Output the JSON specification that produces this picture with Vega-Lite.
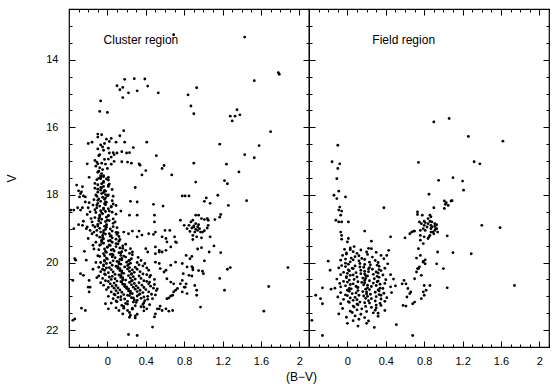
{
"$schema": "https://vega.github.io/schema/vega-lite/v6.json",
"padding": {"left": 4, "top": 7, "right": 5, "bottom": 5},
"spacing": 0,
"bounds": "flush",
"config": {
  "view": {"stroke": "black", "strokeWidth": 1.2},
  "font": "Liberation Sans",
  "axis": {"domain": false, "grid": false, "tickColor": "black", "tickWidth": 1, "labelColor": "black", "titleColor": "black", "labelFont": "Liberation Sans", "titleFont": "Liberation Sans", "labelFontSize": 11, "titleFontSize": 12, "titleFontWeight": "normal"}
},
"datasets": {
"cluster": [
{"b":0.69,"v":13.26},{"b":1.43,"v":13.33},{"b":1.78,"v":14.38},{"b":1.79,"v":14.43},{"b":1.53,"v":14.62},{"b":0.18,"v":14.58},{"b":0.28,"v":14.56},{"b":0.39,"v":14.57},{"b":0.10,"v":14.77},{"b":0.13,"v":14.89},{"b":0.16,"v":14.82},{"b":0.16,"v":15.12},{"b":0.22,"v":14.98},{"b":0.31,"v":14.92},{"b":0.42,"v":14.78},{"b":0.53,"v":14.98},{"b":-0.07,"v":15.22},{"b":-0.08,"v":15.53},{"b":0.0,"v":15.56},{"b":0.84,"v":15.04},{"b":0.87,"v":15.37},{"b":0.90,"v":15.6},{"b":0.93,"v":14.83},{"b":1.35,"v":15.48},{"b":1.28,"v":15.67},{"b":1.33,"v":15.67},{"b":1.38,"v":15.63},{"b":1.30,"v":15.81},{"b":1.70,"v":16.13},{"b":1.17,"v":16.5},{"b":1.58,"v":16.54},{"b":1.43,"v":16.81},{"b":1.53,"v":16.9},{"b":0.90,"v":17.06},{"b":1.24,"v":17.09},{"b":1.37,"v":17.32},{"b":1.45,"v":18.17},{"b":0.92,"v":17.62},{"b":1.22,"v":17.58},{"b":1.25,"v":17.67},{"b":1.15,"v":18.01},{"b":1.03,"v":18.09},{"b":1.01,"v":18.19},{"b":1.07,"v":18.25},{"b":1.26,"v":18.31},{"b":0.92,"v":18.6},{"b":1.18,"v":18.58},{"b":1.17,"v":18.66},{"b":1.01,"v":18.73},{"b":1.04,"v":18.70},{"b":1.05,"v":18.75},{"b":1.12,"v":18.73},{"b":1.05,"v":18.9},{"b":1.04,"v":18.98},{"b":1.01,"v":19.06},{"b":0.99,"v":19.1},{"b":0.94,"v":19.05},{"b":1.07,"v":19.24},{"b":0.98,"v":19.27},{"b":0.89,"v":19.32},{"b":1.11,"v":19.51},{"b":0.94,"v":19.6},{"b":0.98,"v":19.56},{"b":1.18,"v":19.71},{"b":1.06,"v":19.69},{"b":0.88,"v":19.82},{"b":1.01,"v":19.95},{"b":0.88,"v":20.12},{"b":0.89,"v":20.22},{"b":0.89,"v":20.16},{"b":0.95,"v":20.24},{"b":0.99,"v":20.26},{"b":1.0,"v":20.33},{"b":1.25,"v":20.2},{"b":1.28,"v":20.15},{"b":0.88,"v":20.4},{"b":1.17,"v":20.47},{"b":0.91,"v":20.68},{"b":0.93,"v":20.82},{"b":0.93,"v":20.97},{"b":1.22,"v":20.82},{"b":1.68,"v":20.71},{"b":1.88,"v":20.15},{"b":0.97,"v":21.32},{"b":1.63,"v":21.44},
{"b":0.87,"v":18.8},{"b":0.89,"v":18.75},{"b":0.92,"v":18.85},{"b":0.9,"v":18.92},{"b":0.88,"v":18.98},{"b":0.94,"v":18.95},{"b":0.95,"v":18.88},{"b":0.91,"v":19.1},{"b":0.86,"v":19.08},{"b":0.97,"v":19.1},{"b":0.89,"v":19.2},{"b":0.93,"v":19.24},{"b":0.83,"v":19.0},{"b":0.98,"v":18.7},{"b":0.95,"v":18.6},{"b":0.9,"v":18.95},{"b":0.85,"v":18.9},{"b":0.92,"v":19.02},{"b":0.96,"v":19.0},
{"b":0.17,"v":16.1},{"b":0.13,"v":16.25},{"b":-0.10,"v":16.2},{"b":-0.06,"v":16.22},{"b":-0.01,"v":16.35},{"b":0.02,"v":16.42},{"b":0.04,"v":16.33},{"b":-0.10,"v":16.29},{"b":-0.16,"v":16.44},{"b":-0.07,"v":16.52},{"b":-0.05,"v":16.58},{"b":-0.03,"v":16.48},{"b":0.09,"v":16.44},{"b":0.18,"v":16.44},{"b":0.41,"v":16.44},{"b":0.27,"v":16.6},{"b":-0.10,"v":16.64},{"b":-0.04,"v":16.68},{"b":-0.08,"v":16.81},{"b":-0.09,"v":16.84},{"b":0.01,"v":16.62},{"b":0.02,"v":16.76},{"b":0.06,"v":16.75},{"b":0.07,"v":16.81},{"b":0.10,"v":16.76},{"b":0.04,"v":16.88},{"b":0.15,"v":16.72},{"b":0.2,"v":16.76},{"b":0.23,"v":16.75},{"b":-0.13,"v":16.98},{"b":-0.11,"v":17.03},{"b":-0.10,"v":17.08},{"b":-0.06,"v":17.06},{"b":-0.03,"v":16.95},{"b":-0.02,"v":17.09},{"b":0.01,"v":16.94},{"b":0.04,"v":17.09},{"b":0.07,"v":17.01},{"b":0.15,"v":17.02},{"b":0.21,"v":17.03},{"b":0.25,"v":17.06},{"b":0.33,"v":17.08},{"b":0.34,"v":17.12},{"b":-0.21,"v":17.08},{"b":0.4,"v":17.28},{"b":0.36,"v":17.41},{"b":0.51,"v":16.84},{"b":0.57,"v":17.22},{"b":0.59,"v":17.13},{"b":0.67,"v":17.41},{"b":-0.10,"v":17.33},{"b":-0.07,"v":17.43},{"b":-0.06,"v":17.37},{"b":-0.04,"v":17.46},{"b":-0.19,"v":17.48},{"b":-0.20,"v":16.48},{"b":-0.08,"v":17.2},{"b":-0.05,"v":17.25},{"b":-0.12,"v":17.15},{"b":0.0,"v":17.22},{"b":-0.09,"v":17.3},
{"b":0.29,"v":17.78},{"b":-0.32,"v":17.71},{"b":-0.26,"v":17.76},{"b":-0.28,"v":17.96},{"b":-0.25,"v":18.03},{"b":-0.23,"v":18.06},{"b":0.31,"v":18.21},{"b":0.48,"v":18.28},{"b":0.58,"v":18.33},{"b":0.78,"v":18.03},{"b":0.81,"v":18.03},{"b":0.85,"v":18.03},{"b":-0.31,"v":18.38},{"b":-0.26,"v":18.38},{"b":-0.35,"v":18.45},{"b":-0.19,"v":18.23},{"b":-0.18,"v":18.5},{"b":-0.21,"v":18.58},{"b":-0.25,"v":18.78},{"b":-0.26,"v":18.9},{"b":-0.21,"v":18.95},{"b":-0.18,"v":19.05},{"b":-0.14,"v":19.1},{"b":-0.35,"v":19.0},{"b":0.23,"v":18.6},{"b":0.09,"v":18.31},{"b":0.14,"v":18.48},{"b":0.17,"v":19.1},{"b":0.22,"v":19.15},{"b":0.26,"v":19.07},{"b":0.31,"v":19.24},{"b":0.36,"v":19.19},{"b":0.43,"v":19.15},{"b":0.48,"v":19.17},{"b":0.57,"v":19.24},{"b":0.6,"v":19.05},{"b":0.65,"v":19.05},{"b":0.5,"v":19.54},{"b":0.54,"v":19.69},{"b":0.5,"v":19.74},{"b":0.62,"v":19.39},{"b":0.66,"v":19.54},{"b":0.72,"v":19.41},{"b":0.76,"v":18.75},{"b":0.80,"v":18.9},{"b":0.82,"v":19.79},{"b":0.86,"v":19.89},{"b":0.78,"v":20.03},{"b":-0.33,"v":19.93},{"b":-0.22,"v":19.93},{"b":-0.28,"v":20.33},{"b":-0.25,"v":20.38},{"b":-0.36,"v":20.53},{"b":-0.19,"v":20.53},{"b":-0.18,"v":20.73},{"b":-0.27,"v":21.35},{"b":-0.23,"v":21.42},{"b":-0.34,"v":21.67},{"b":0.22,"v":22.13},{"b":0.31,"v":22.16},{"b":0.47,"v":21.91},{"b":0.24,"v":21.56},{"b":0.29,"v":21.64},{"b":-0.02,"v":21.22},{"b":0.01,"v":21.37},{"b":0.12,"v":21.42},{"b":0.17,"v":21.35},{"b":0.38,"v":21.32},{"b":0.41,"v":21.37},{"b":0.52,"v":21.37},{"b":0.55,"v":21.29},{"b":0.62,"v":21.07},{"b":0.66,"v":20.99},{"b":0.69,"v":20.87},{"b":0.73,"v":20.77},{"b":0.76,"v":20.63},{"b":0.78,"v":20.53},{"b":0.81,"v":20.73},{"b":0.79,"v":20.33},{"b":0.62,"v":20.48},{"b":0.66,"v":20.58},{"b":0.69,"v":20.63},{"b":0.55,"v":20.18},{"b":0.59,"v":20.28},{"b":0.66,"v":20.08},{"b":0.83,"v":20.92},{"b":-0.38,"v":18.45},{"b":-0.34,"v":19.89},{"b":-0.36,"v":21.71},{"b":-0.20,"v":20.73},{"b":-0.19,"v":20.87},{"b":-0.24,"v":19.67},{"b":-0.30,"v":17.88},{"b":-0.27,"v":17.91},{"b":-0.29,"v":18.06},{"b":-0.23,"v":18.21},{"b":-0.20,"v":18.38},{"b":-0.28,"v":18.45},{"b":-0.16,"v":18.8},{"b":-0.30,"v":18.88},{"b":-0.22,"v":19.0},{"b":-0.11,"v":19.2},{"b":-0.2,"v":19.29},{"b":-0.15,"v":19.49},{"b":0.24,"v":18.19},{"b":0.31,"v":18.6},{"b":0.49,"v":18.6},{"b":0.49,"v":18.8},{"b":0.33,"v":19.07},{"b":0.5,"v":19.1},{"b":0.61,"v":19.29},{"b":0.7,"v":19.24},{"b":0.71,"v":19.39},{"b":0.4,"v":19.59},{"b":0.42,"v":19.69},{"b":0.54,"v":19.64},{"b":0.57,"v":19.69},{"b":0.61,"v":19.64},{"b":0.5,"v":19.99},{"b":0.54,"v":20.03},{"b":0.61,"v":20.23},{"b":0.71,"v":19.99},{"b":0.83,"v":20.13},{"b":0.85,"v":20.38},{"b":0.82,"v":20.63},{"b":0.8,"v":20.73},{"b":0.78,"v":20.87},{"b":0.71,"v":20.82},{"b":0.68,"v":20.97},{"b":0.64,"v":21.05},{"b":0.61,"v":21.37},{"b":0.57,"v":21.42},{"b":0.54,"v":21.37},{"b":0.64,"v":21.44},{"b":0.68,"v":21.42},{"b":0.49,"v":21.61},{"b":0.5,"v":21.52},{"b":-0.15,"v":18.3},{"b":-0.17,"v":18.7},{"b":-0.13,"v":18.95},{"b":-0.16,"v":19.15},{"b":-0.12,"v":19.4},{"b":-0.14,"v":19.6},{"b":-0.1,"v":19.8},{"b":-0.12,"v":20.0},{"b":-0.15,"v":20.2},{"b":-0.11,"v":20.45},
{"b":-0.07,"v":17.47},{"b":-0.04,"v":17.43},{"b":0.01,"v":17.48},
{"b":-0.09,"v":17.51},{"b":-0.07,"v":17.52},{"b":-0.01,"v":17.53},
{"b":-0.11,"v":17.55},{"b":-0.04,"v":17.6},{"b":0.01,"v":17.56},
{"b":-0.13,"v":17.66},{"b":-0.06,"v":17.67},{"b":-0.04,"v":17.63},{"b":0.02,"v":17.68},
{"b":-0.1,"v":17.7},{"b":-0.04,"v":17.75},{"b":0.01,"v":17.71},
{"b":-0.07,"v":17.78},{"b":-0.06,"v":17.79},{"b":0.01,"v":17.75},{"b":-0.13,"v":17.8},
{"b":-0.1,"v":17.83},{"b":-0.07,"v":17.86},{"b":-0.03,"v":17.87},{"b":0.05,"v":17.84},
{"b":-0.1,"v":17.92},{"b":-0.04,"v":17.93},{"b":-0.02,"v":17.89},
{"b":-0.12,"v":18.0},{"b":-0.06,"v":17.96},{"b":-0.02,"v":17.99},{"b":0.01,"v":18.0},
{"b":-0.11,"v":18.04},{"b":-0.05,"v":18.07},{"b":0.0,"v":18.03},{"b":0.06,"v":18.04},
{"b":-0.09,"v":18.12},{"b":-0.03,"v":18.13},{"b":-0.02,"v":18.09},{"b":-0.14,"v":18.14},
{"b":-0.1,"v":18.16},{"b":-0.07,"v":18.19},{"b":-0.02,"v":18.21},{"b":0.05,"v":18.17},
{"b":-0.1,"v":18.25},{"b":-0.03,"v":18.26},{"b":-0.01,"v":18.22},{"b":0.06,"v":18.27},
{"b":-0.11,"v":18.3},{"b":-0.08,"v":18.33},{"b":-0.02,"v":18.29},{"b":0.04,"v":18.34},
{"b":-0.11,"v":18.38},{"b":-0.04,"v":18.39},{"b":0.01,"v":18.41},{"b":0.04,"v":18.36},
{"b":-0.07,"v":18.47},{"b":-0.04,"v":18.43},{"b":0.02,"v":18.48},{"b":-0.13,"v":18.44},
{"b":-0.12,"v":18.52},{"b":-0.06,"v":18.53},{"b":-0.02,"v":18.49},{"b":0.05,"v":18.51},
{"b":-0.08,"v":18.6},{"b":-0.05,"v":18.56},{"b":0.01,"v":18.61},{"b":0.09,"v":18.57},
{"b":-0.08,"v":18.65},{"b":-0.01,"v":18.66},{"b":0.01,"v":18.62},{"b":-0.13,"v":18.67},
{"b":-0.09,"v":18.7},{"b":-0.06,"v":18.72},{"b":0.0,"v":18.75},{"b":0.06,"v":18.71},
{"b":-0.09,"v":18.77},{"b":-0.02,"v":18.79},{"b":0.02,"v":18.76},{"b":0.08,"v":18.8},
{"b":-0.1,"v":18.87},{"b":-0.07,"v":18.83},{"b":-0.01,"v":18.88},{"b":0.06,"v":18.84},
{"b":-0.1,"v":18.92},{"b":-0.03,"v":18.93},{"b":-0.01,"v":18.89},{"b":0.06,"v":18.94},{"b":-0.15,"v":18.9},
{"b":-0.08,"v":18.99},{"b":-0.01,"v":18.96},{"b":0.03,"v":19.01},{"b":0.1,"v":18.97},
{"b":-0.11,"v":19.05},{"b":-0.04,"v":19.06},{"b":-0.02,"v":19.02},{"b":0.05,"v":19.07},
{"b":-0.07,"v":19.1},{"b":-0.04,"v":19.13},{"b":0.02,"v":19.15},{"b":0.09,"v":19.11},{"b":0.11,"v":19.12},
{"b":-0.05,"v":19.2},{"b":-0.02,"v":19.16},{"b":0.04,"v":19.21},{"b":0.1,"v":19.17},
{"b":-0.08,"v":19.25},{"b":-0.05,"v":19.26},{"b":0.03,"v":19.22},{"b":0.05,"v":19.27},{"b":0.12,"v":19.23},
{"b":-0.06,"v":19.34},{"b":-0.04,"v":19.3},{"b":0.03,"v":19.35},{"b":0.09,"v":19.31},{"b":0.13,"v":19.32},
{"b":-0.06,"v":19.39},{"b":0.01,"v":19.36},{"b":0.05,"v":19.4},{"b":0.12,"v":19.37},
{"b":-0.07,"v":19.47},{"b":-0.04,"v":19.43},{"b":0.02,"v":19.48},{"b":0.09,"v":19.44},{"b":0.11,"v":19.45},{"b":0.19,"v":19.46},
{"b":-0.08,"v":19.49},{"b":0.0,"v":19.54},{"b":0.03,"v":19.5},{"b":0.09,"v":19.53},{"b":0.16,"v":19.51},
{"b":-0.03,"v":19.6},{"b":0.0,"v":19.55},{"b":0.06,"v":19.61},{"b":0.13,"v":19.57},{"b":0.16,"v":19.58},{"b":0.24,"v":19.59},
{"b":-0.09,"v":19.62},{"b":-0.02,"v":19.67},{"b":0.04,"v":19.63},{"b":0.07,"v":19.66},{"b":0.15,"v":19.68},{"b":0.19,"v":19.64},
{"b":-0.04,"v":19.74},{"b":-0.01,"v":19.7},{"b":0.05,"v":19.75},{"b":0.12,"v":19.71},{"b":0.14,"v":19.72},{"b":0.23,"v":19.73},{"b":0.26,"v":19.69},
{"b":-0.03,"v":19.8},{"b":0.03,"v":19.76},{"b":0.06,"v":19.78},{"b":0.14,"v":19.79},{"b":0.17,"v":19.81},{"b":0.26,"v":19.77},
{"b":-0.08,"v":19.82},{"b":-0.01,"v":19.87},{"b":0.05,"v":19.83},{"b":0.08,"v":19.86},{"b":0.15,"v":19.88},{"b":0.19,"v":19.84},{"b":0.32,"v":19.85},
{"b":-0.03,"v":19.94},{"b":0.0,"v":19.9},{"b":0.06,"v":19.95},{"b":0.13,"v":19.91},{"b":0.15,"v":19.92},{"b":0.23,"v":19.93},{"b":0.25,"v":19.89},{"b":0.35,"v":19.94},
{"b":-0.07,"v":20.0},{"b":-0.03,"v":19.96},{"b":0.03,"v":20.01},{"b":0.1,"v":19.97},{"b":0.12,"v":19.98},{"b":0.2,"v":19.99},{"b":0.22,"v":19.95},{"b":0.31,"v":20.0},
{"b":-0.04,"v":20.07},{"b":-0.01,"v":20.03},{"b":0.05,"v":20.08},{"b":0.12,"v":20.04},{"b":0.14,"v":20.05},{"b":0.22,"v":20.06},{"b":0.24,"v":20.02},{"b":0.33,"v":20.07},{"b":0.39,"v":20.03},
{"b":-0.09,"v":20.14},{"b":-0.04,"v":20.1},{"b":0.02,"v":20.15},{"b":0.09,"v":20.11},{"b":0.11,"v":20.12},{"b":0.18,"v":20.13},{"b":0.21,"v":20.09},{"b":0.29,"v":20.14},{"b":0.37,"v":20.1},
{"b":-0.05,"v":20.2},{"b":-0.01,"v":20.16},{"b":0.04,"v":20.21},{"b":0.11,"v":20.17},{"b":0.13,"v":20.18},{"b":0.21,"v":20.19},{"b":0.23,"v":20.15},{"b":0.31,"v":20.2},{"b":0.41,"v":20.16},
{"b":-0.07,"v":20.27},{"b":-0.03,"v":20.23},{"b":0.06,"v":20.28},{"b":0.13,"v":20.24},{"b":0.15,"v":20.25},{"b":0.23,"v":20.26},{"b":0.26,"v":20.22},{"b":0.34,"v":20.27},{"b":0.43,"v":20.23},
{"b":-0.03,"v":20.34},{"b":0.01,"v":20.3},{"b":0.08,"v":20.35},{"b":0.15,"v":20.31},{"b":0.17,"v":20.32},{"b":0.25,"v":20.33},{"b":0.28,"v":20.29},{"b":0.37,"v":20.34},
{"b":-0.09,"v":20.4},{"b":-0.02,"v":20.36},{"b":0.05,"v":20.41},{"b":0.12,"v":20.37},{"b":0.14,"v":20.38},{"b":0.22,"v":20.39},{"b":0.25,"v":20.35},{"b":0.33,"v":20.4},{"b":0.41,"v":20.36},{"b":0.45,"v":20.38},
{"b":-0.05,"v":20.47},{"b":0.02,"v":20.43},{"b":0.08,"v":20.48},{"b":0.14,"v":20.44},{"b":0.16,"v":20.45},{"b":0.24,"v":20.46},{"b":0.27,"v":20.42},{"b":0.35,"v":20.47},{"b":0.44,"v":20.43},
{"b":-0.02,"v":20.54},{"b":0.04,"v":20.5},{"b":0.1,"v":20.55},{"b":0.16,"v":20.51},{"b":0.19,"v":20.52},{"b":0.26,"v":20.53},{"b":0.29,"v":20.49},{"b":0.38,"v":20.54},{"b":0.49,"v":20.5},
{"b":-0.07,"v":20.6},{"b":0.01,"v":20.56},{"b":0.07,"v":20.61},{"b":0.14,"v":20.57},{"b":0.15,"v":20.58},{"b":0.23,"v":20.59},{"b":0.25,"v":20.55},{"b":0.33,"v":20.6},{"b":0.41,"v":20.56},{"b":0.44,"v":20.58},
{"b":-0.04,"v":20.67},{"b":0.03,"v":20.63},{"b":0.09,"v":20.68},{"b":0.16,"v":20.64},{"b":0.18,"v":20.65},{"b":0.25,"v":20.66},{"b":0.28,"v":20.62},{"b":0.36,"v":20.67},{"b":0.43,"v":20.63},{"b":0.49,"v":20.65},
{"b":0.01,"v":20.74},{"b":0.05,"v":20.7},{"b":0.11,"v":20.75},{"b":0.18,"v":20.71},{"b":0.2,"v":20.72},{"b":0.27,"v":20.73},{"b":0.3,"v":20.69},{"b":0.38,"v":20.74},{"b":0.45,"v":20.7},
{"b":-0.01,"v":20.8},{"b":0.07,"v":20.76},{"b":0.13,"v":20.81},{"b":0.2,"v":20.77},{"b":0.22,"v":20.78},{"b":0.29,"v":20.79},{"b":0.32,"v":20.75},{"b":0.4,"v":20.8},{"b":0.48,"v":20.76},{"b":0.52,"v":20.78},
{"b":0.04,"v":20.87},{"b":0.09,"v":20.83},{"b":0.15,"v":20.88},{"b":0.22,"v":20.84},{"b":0.24,"v":20.85},{"b":0.31,"v":20.86},{"b":0.34,"v":20.82},{"b":0.43,"v":20.87},{"b":0.51,"v":20.83},
{"b":0.07,"v":20.94},{"b":0.11,"v":20.9},{"b":0.17,"v":20.95},{"b":0.24,"v":20.91},{"b":0.26,"v":20.92},{"b":0.34,"v":20.93},{"b":0.37,"v":20.89},{"b":0.46,"v":20.94},
{"b":0.01,"v":21.0},{"b":0.08,"v":20.96},{"b":0.14,"v":21.01},{"b":0.21,"v":20.97},{"b":0.23,"v":20.98},{"b":0.31,"v":20.99},{"b":0.33,"v":20.95},{"b":0.42,"v":21.0},{"b":0.5,"v":20.96},
{"b":0.06,"v":21.07},{"b":0.11,"v":21.03},{"b":0.18,"v":21.08},{"b":0.25,"v":21.04},{"b":0.27,"v":21.05},{"b":0.35,"v":21.06},{"b":0.38,"v":21.02},{"b":0.47,"v":21.07},
{"b":0.09,"v":21.14},{"b":0.14,"v":21.1},{"b":0.21,"v":21.15},{"b":0.28,"v":21.11},{"b":0.31,"v":21.12},{"b":0.39,"v":21.13},{"b":0.42,"v":21.09},
{"b":0.04,"v":21.2},{"b":0.1,"v":21.16},{"b":0.19,"v":21.21},{"b":0.27,"v":21.17},{"b":0.3,"v":21.18},{"b":0.38,"v":21.19},
{"b":0.15,"v":21.27},{"b":0.21,"v":21.23},{"b":0.29,"v":21.28},{"b":0.37,"v":21.24},{"b":0.44,"v":21.25},
{"b":0.09,"v":21.34},{"b":0.17,"v":21.3},{"b":0.26,"v":21.35},{"b":0.35,"v":21.31},
{"b":0.21,"v":21.42},{"b":0.26,"v":21.38},{"b":0.38,"v":21.43},
{"b":0.16,"v":21.52},{"b":0.23,"v":21.48},{"b":0.31,"v":21.53},
{"b":0.23,"v":21.62},{"b":0.29,"v":21.58}
],
"field": [
{"b":0.90,"v":15.84},{"b":1.06,"v":15.74},{"b":1.26,"v":16.27},{"b":1.62,"v":16.41},{"b":0.74,"v":17.04},{"b":1.32,"v":17.02},{"b":1.38,"v":17.08},{"b":-0.10,"v":16.53},{"b":-0.16,"v":17.02},{"b":-0.08,"v":17.08},{"b":-0.10,"v":17.22},{"b":-0.11,"v":17.52},{"b":0.95,"v":17.57},{"b":1.10,"v":17.49},{"b":1.20,"v":17.59},{"b":1.21,"v":17.86},{"b":0.85,"v":17.98},{"b":-0.14,"v":18.01},{"b":-0.11,"v":18.11},{"b":-0.09,"v":17.89},{"b":-0.02,"v":18.06},{"b":-0.08,"v":18.36},{"b":-0.09,"v":18.45},{"b":-0.07,"v":18.6},{"b":-0.06,"v":18.48},{"b":0.38,"v":18.38},{"b":1.01,"v":18.18},{"b":1.02,"v":18.28},{"b":1.08,"v":18.18},{"b":1.01,"v":18.4},{"b":0.90,"v":18.38},{"b":0.73,"v":18.5},{"b":0.73,"v":18.58},{"b":-0.12,"v":18.75},{"b":-0.09,"v":18.8},{"b":-0.06,"v":18.8},{"b":0.01,"v":18.8},{"b":0.18,"v":19.07},{"b":-0.07,"v":19.1},{"b":-0.06,"v":19.2},{"b":-0.06,"v":19.31},{"b":0.01,"v":19.29},{"b":0.0,"v":19.39},{"b":0.25,"v":19.37},{"b":0.45,"v":19.24},{"b":0.60,"v":19.27},{"b":0.67,"v":19.1},{"b":0.70,"v":19.07},
{"b":0.75,"v":18.8},{"b":0.77,"v":18.85},{"b":0.80,"v":18.78},{"b":0.81,"v":18.82},{"b":0.84,"v":18.85},{"b":0.86,"v":18.78},{"b":0.87,"v":18.9},{"b":0.87,"v":19.0},{"b":0.89,"v":19.1},{"b":0.91,"v":18.85},{"b":0.92,"v":19.0},{"b":0.84,"v":18.7},{"b":0.86,"v":18.6},{"b":0.80,"v":18.9},{"b":0.79,"v":19.0},{"b":0.76,"v":19.2},{"b":0.80,"v":19.24},{"b":0.84,"v":19.29},{"b":0.86,"v":19.2},{"b":0.87,"v":18.65},{"b":0.88,"v":18.8},{"b":0.91,"v":18.93},{"b":0.93,"v":18.88},{"b":0.88,"v":18.95},{"b":0.91,"v":19.05},{"b":0.93,"v":19.0},{"b":0.87,"v":19.1},{"b":0.9,"v":19.15},{"b":0.94,"v":19.1},{"b":0.83,"v":18.95},
{"b":0.94,"v":19.69},{"b":0.93,"v":20.04},{"b":1.10,"v":19.71},{"b":1.29,"v":19.74},{"b":1.0,"v":20.18},{"b":1.04,"v":20.75},{"b":1.40,"v":18.9},{"b":1.59,"v":18.97},{"b":1.74,"v":20.68},{"b":1.03,"v":18.23},{"b":1.05,"v":18.31},{"b":1.09,"v":18.17},{"b":1.04,"v":19.21},
{"b":0.73,"v":20.18},{"b":0.72,"v":20.28},{"b":0.75,"v":20.13},{"b":0.79,"v":19.99},{"b":0.81,"v":19.92},{"b":0.77,"v":20.38},{"b":0.70,"v":20.48},{"b":0.80,"v":20.68},{"b":0.79,"v":20.87},{"b":0.77,"v":21.07},{"b":0.80,"v":20.97},{"b":0.86,"v":20.68},{"b":0.82,"v":20.82},{"b":0.61,"v":20.63},{"b":0.63,"v":20.77},{"b":0.65,"v":20.92},{"b":0.66,"v":20.87},{"b":0.68,"v":21.22},{"b":0.70,"v":21.17},{"b":0.61,"v":21.29},{"b":0.68,"v":22.16},{"b":0.51,"v":21.84},{"b":-0.26,"v":22.16},{"b":-0.37,"v":21.71},{"b":-0.33,"v":20.97},{"b":-0.28,"v":21.07},{"b":-0.26,"v":21.22},{"b":-0.26,"v":20.75},{"b":-0.20,"v":19.96},{"b":-0.18,"v":20.23},{"b":-0.17,"v":20.79},{"b":0.43,"v":19.64},{"b":0.41,"v":19.79},{"b":0.57,"v":20.63},{"b":0.59,"v":20.53},{"b":0.62,"v":21.02},{"b":0.58,"v":21.27},{"b":0.72,"v":19.87},{"b":0.76,"v":19.79},{"b":0.79,"v":19.97},{"b":0.81,"v":20.04},{"b":0.74,"v":20.18},{"b":0.78,"v":18.6},{"b":0.76,"v":19.05},{"b":0.81,"v":19.05},{"b":0.65,"v":19.15},{"b":0.69,"v":19.07},{"b":0.76,"v":19.34},{"b":0.79,"v":19.44},{"b":0.74,"v":19.59},{"b":0.85,"v":19.24},
{"b":0.03,"v":19.57},{"b":0.07,"v":19.53},{"b":0.22,"v":19.58},
{"b":-0.03,"v":19.61},{"b":0.03,"v":19.62},{"b":0.14,"v":19.63},{"b":0.25,"v":19.59},
{"b":-0.01,"v":19.72},{"b":0.06,"v":19.68},{"b":0.1,"v":19.73},{"b":0.2,"v":19.69},{"b":0.3,"v":19.7},
{"b":-0.05,"v":19.79},{"b":-0.01,"v":19.75},{"b":0.12,"v":19.8},{"b":0.21,"v":19.76},{"b":0.35,"v":19.79},
{"b":0.04,"v":19.87},{"b":0.08,"v":19.83},{"b":0.15,"v":19.88},{"b":0.26,"v":19.84},
{"b":-0.07,"v":19.93},{"b":-0.02,"v":19.9},{"b":0.06,"v":19.92},{"b":0.12,"v":19.95},{"b":0.18,"v":19.91},{"b":0.29,"v":19.94},{"b":0.38,"v":19.89},
{"b":-0.02,"v":20.02},{"b":0.03,"v":19.98},{"b":0.13,"v":20.03},{"b":0.23,"v":19.99},{"b":0.32,"v":20.0},
{"b":-0.06,"v":20.09},{"b":0.01,"v":20.05},{"b":0.08,"v":20.1},{"b":0.18,"v":20.06},{"b":0.24,"v":20.07},{"b":0.31,"v":20.08},{"b":0.42,"v":20.04},
{"b":-0.09,"v":20.16},{"b":-0.02,"v":20.12},{"b":0.05,"v":20.17},{"b":0.13,"v":20.13},{"b":0.17,"v":20.14},{"b":0.23,"v":20.15},{"b":0.33,"v":20.11},
{"b":0.01,"v":20.22},{"b":0.06,"v":20.18},{"b":0.14,"v":20.23},{"b":0.22,"v":20.19},{"b":0.26,"v":20.2},{"b":0.33,"v":20.21},{"b":0.39,"v":20.17},
{"b":-0.04,"v":20.29},{"b":0.02,"v":20.25},{"b":0.09,"v":20.3},{"b":0.18,"v":20.26},{"b":0.22,"v":20.27},{"b":0.3,"v":20.28},{"b":0.35,"v":20.24},
{"b":-0.07,"v":20.36},{"b":0.0,"v":20.32},{"b":0.06,"v":20.37},{"b":0.14,"v":20.33},{"b":0.18,"v":20.34},{"b":0.27,"v":20.35},{"b":0.32,"v":20.31},{"b":0.45,"v":20.36},
{"b":-0.01,"v":20.42},{"b":0.03,"v":20.38},{"b":0.1,"v":20.43},{"b":0.19,"v":20.39},{"b":0.21,"v":20.4},{"b":0.31,"v":20.41},{"b":0.37,"v":20.37},
{"b":-0.11,"v":20.49},{"b":-0.01,"v":20.45},{"b":0.07,"v":20.5},{"b":0.16,"v":20.46},{"b":0.19,"v":20.47},{"b":0.28,"v":20.48},{"b":0.33,"v":20.44},{"b":0.48,"v":20.49},
{"b":-0.04,"v":20.56},{"b":0.02,"v":20.52},{"b":0.11,"v":20.57},{"b":0.18,"v":20.53},{"b":0.23,"v":20.54},{"b":0.32,"v":20.55},{"b":0.4,"v":20.51},
{"b":-0.08,"v":20.62},{"b":0.0,"v":20.58},{"b":0.06,"v":20.63},{"b":0.15,"v":20.59},{"b":0.18,"v":20.6},{"b":0.27,"v":20.61},{"b":0.31,"v":20.57},{"b":0.39,"v":20.62},
{"b":-0.02,"v":20.69},{"b":0.03,"v":20.65},{"b":0.09,"v":20.7},{"b":0.17,"v":20.66},{"b":0.21,"v":20.67},{"b":0.3,"v":20.68},{"b":0.34,"v":20.64},{"b":0.5,"v":20.69},
{"b":-0.13,"v":20.76},{"b":-0.07,"v":20.72},{"b":0.02,"v":20.77},{"b":0.1,"v":20.73},{"b":0.11,"v":20.74},{"b":0.21,"v":20.75},{"b":0.25,"v":20.71},{"b":0.34,"v":20.76},{"b":0.45,"v":20.72},
{"b":0.0,"v":20.82},{"b":0.04,"v":20.78},{"b":0.11,"v":20.83},{"b":0.19,"v":20.79},{"b":0.23,"v":20.8},{"b":0.32,"v":20.81},{"b":0.37,"v":20.77},
{"b":-0.07,"v":20.89},{"b":0.02,"v":20.85},{"b":0.09,"v":20.9},{"b":0.16,"v":20.86},{"b":0.2,"v":20.87},{"b":0.29,"v":20.88},{"b":0.33,"v":20.84},{"b":0.46,"v":20.89},
{"b":-0.02,"v":20.96},{"b":0.05,"v":20.92},{"b":0.12,"v":20.97},{"b":0.2,"v":20.93},{"b":0.24,"v":20.94},{"b":0.33,"v":20.95},{"b":0.38,"v":20.91},
{"b":-0.1,"v":21.02},{"b":0.0,"v":20.98},{"b":0.08,"v":21.03},{"b":0.17,"v":20.99},{"b":0.21,"v":21.0},{"b":0.3,"v":21.01},{"b":0.35,"v":20.97},
{"b":-0.04,"v":21.09},{"b":0.03,"v":21.05},{"b":0.1,"v":21.1},{"b":0.19,"v":21.06},{"b":0.25,"v":21.07},{"b":0.35,"v":21.08},{"b":0.41,"v":21.04},
{"b":0.01,"v":21.16},{"b":0.06,"v":21.12},{"b":0.13,"v":21.17},{"b":0.22,"v":21.13},{"b":0.29,"v":21.14},{"b":0.39,"v":21.15},
{"b":-0.07,"v":21.22},{"b":0.02,"v":21.18},{"b":0.1,"v":21.23},{"b":0.18,"v":21.19},{"b":0.23,"v":21.2},{"b":0.34,"v":21.21},
{"b":0.06,"v":21.29},{"b":0.11,"v":21.25},{"b":0.19,"v":21.3},{"b":0.3,"v":21.26},{"b":0.35,"v":21.27},
{"b":-0.05,"v":21.36},{"b":0.07,"v":21.32},{"b":0.15,"v":21.37},{"b":0.25,"v":21.33},{"b":0.3,"v":21.34},
{"b":0.03,"v":21.44},{"b":0.1,"v":21.4},{"b":0.2,"v":21.45},{"b":0.29,"v":21.41},{"b":0.39,"v":21.42},
{"b":-0.09,"v":21.52},{"b":0.05,"v":21.48},{"b":0.14,"v":21.53},{"b":0.27,"v":21.49},{"b":0.32,"v":21.5},
{"b":-0.01,"v":21.62},{"b":0.08,"v":21.58},{"b":0.18,"v":21.63},{"b":0.32,"v":21.59},
{"b":0.06,"v":21.72},{"b":0.12,"v":21.68},{"b":0.22,"v":21.73},
{"b":0.0,"v":21.8},{"b":0.2,"v":21.8},{"b":0.28,"v":21.92},{"b":0.11,"v":21.88}
]
},
"hconcat": [
{
 "width": 240, "height": 338,
 "layer": [
  {"data": {"name": "cluster"}, "mark": {"type": "circle", "size": 8, "color": "black", "opacity": 1},
   "encoding": {
    "x": {"field": "b", "type": "quantitative", "scale": {"domain": [-0.4, 2.1], "nice": false, "zero": false},
          "axis": {"orient": "bottom", "values": [0, 0.4, 0.8, 1.2, 1.6, 2], "format": "~g", "tickSize": -6, "labelPadding": 14, "title": "(B−V)", "titleX": 232, "titleY": 29, "titleBaseline": "middle", "titleAnchor": "middle"}},
    "y": {"field": "v", "type": "quantitative", "scale": {"domain": [12.5, 22.5], "reverse": true, "nice": false, "zero": false},
          "axis": {"orient": "left", "values": [14, 16, 18, 20, 22], "format": "~g", "tickSize": -6, "labelPadding": 17, "title": "V", "titleX": -58, "titleY": 169, "titleBaseline": "middle", "titleAnchor": "middle"}}
   }},
  {"data": {"values": [{}]}, "mark": {"type": "point", "opacity": 0},
   "encoding": {
    "x": {"datum": 0, "type": "quantitative", "scale": {"domain": [-0.4, 2.1], "nice": false, "zero": false},
          "axis": {"orient": "top", "values": [0, 0.4, 0.8, 1.2, 1.6, 2], "labels": false, "tickSize": -6, "title": null}},
    "y": {"datum": 14, "type": "quantitative", "scale": {"domain": [12.5, 22.5], "reverse": true, "nice": false, "zero": false},
          "axis": {"orient": "right", "values": [14, 16, 18, 20, 22], "labels": false, "tickSize": -6, "title": null}}
   }},
  {"data": {"values": [{}]}, "mark": {"type": "point", "opacity": 0},
   "encoding": {
    "x": {"datum": 0, "type": "quantitative", "scale": {"domain": [-0.4, 2.1], "nice": false, "zero": false},
          "axis": {"orient": "bottom", "values": [-0.3, -0.2, -0.1, 0.1, 0.2, 0.3, 0.5, 0.6, 0.7, 0.9, 1.0, 1.1, 1.3, 1.4, 1.5, 1.7, 1.8, 1.9, 2.1], "labels": false, "tickSize": -3, "title": null}},
    "y": {"datum": 14, "type": "quantitative", "scale": {"domain": [12.5, 22.5], "reverse": true, "nice": false, "zero": false},
          "axis": {"orient": "left", "values": [12.5, 13, 13.5, 14.5, 15, 15.5, 16.5, 17, 17.5, 18.5, 19, 19.5, 20.5, 21, 21.5, 22.5], "labels": false, "tickSize": -3, "title": null}}
   }},
  {"data": {"values": [{}]}, "mark": {"type": "point", "opacity": 0},
   "encoding": {
    "x": {"datum": 0, "type": "quantitative", "scale": {"domain": [-0.4, 2.1], "nice": false, "zero": false},
          "axis": {"orient": "top", "values": [-0.3, -0.2, -0.1, 0.1, 0.2, 0.3, 0.5, 0.6, 0.7, 0.9, 1.0, 1.1, 1.3, 1.4, 1.5, 1.7, 1.8, 1.9, 2.1], "labels": false, "tickSize": -3, "title": null}},
    "y": {"datum": 14, "type": "quantitative", "scale": {"domain": [12.5, 22.5], "reverse": true, "nice": false, "zero": false},
          "axis": {"orient": "right", "values": [12.5, 13, 13.5, 14.5, 15, 15.5, 16.5, 17, 17.5, 18.5, 19, 19.5, 20.5, 21, 21.5, 22.5], "labels": false, "tickSize": -3, "title": null}}
   }},
  {"data": {"values": [{}]}, "mark": {"type": "text", "align": "left", "baseline": "middle", "fontSize": 12, "font": "Liberation Sans", "color": "black"},
   "encoding": {
    "x": {"datum": -0.04, "type": "quantitative", "scale": {"domain": [-0.4, 2.1], "nice": false, "zero": false}, "axis": null},
    "y": {"datum": 13.41, "type": "quantitative", "scale": {"domain": [12.5, 22.5], "reverse": true, "nice": false, "zero": false}, "axis": null},
    "text": {"value": "Cluster region"}
   }}
 ],
 "resolve": {"axis": {"x": "independent", "y": "independent"}}
},
{
 "width": 240, "height": 338,
 "layer": [
  {"data": {"name": "field"}, "mark": {"type": "circle", "size": 8, "color": "black", "opacity": 1},
   "encoding": {
    "x": {"field": "b", "type": "quantitative", "scale": {"domain": [-0.4, 2.1], "nice": false, "zero": false},
          "axis": {"orient": "bottom", "values": [0, 0.4, 0.8, 1.2, 1.6, 2], "format": "~g", "tickSize": -6, "labelPadding": 14, "title": null}},
    "y": {"field": "v", "type": "quantitative", "scale": {"domain": [12.5, 22.5], "reverse": true, "nice": false, "zero": false},
          "axis": {"orient": "left", "values": [14, 16, 18, 20, 22], "labels": false, "tickSize": -6, "title": null}}
   }},
  {"data": {"values": [{}]}, "mark": {"type": "point", "opacity": 0},
   "encoding": {
    "x": {"datum": 0, "type": "quantitative", "scale": {"domain": [-0.4, 2.1], "nice": false, "zero": false},
          "axis": {"orient": "top", "values": [0, 0.4, 0.8, 1.2, 1.6, 2], "labels": false, "tickSize": -6, "title": null}},
    "y": {"datum": 14, "type": "quantitative", "scale": {"domain": [12.5, 22.5], "reverse": true, "nice": false, "zero": false},
          "axis": {"orient": "right", "values": [14, 16, 18, 20, 22], "labels": false, "tickSize": -6, "title": null}}
   }},
  {"data": {"values": [{}]}, "mark": {"type": "point", "opacity": 0},
   "encoding": {
    "x": {"datum": 0, "type": "quantitative", "scale": {"domain": [-0.4, 2.1], "nice": false, "zero": false},
          "axis": {"orient": "bottom", "values": [-0.3, -0.2, -0.1, 0.1, 0.2, 0.3, 0.5, 0.6, 0.7, 0.9, 1.0, 1.1, 1.3, 1.4, 1.5, 1.7, 1.8, 1.9, 2.1], "labels": false, "tickSize": -3, "title": null}},
    "y": {"datum": 14, "type": "quantitative", "scale": {"domain": [12.5, 22.5], "reverse": true, "nice": false, "zero": false},
          "axis": {"orient": "left", "values": [12.5, 13, 13.5, 14.5, 15, 15.5, 16.5, 17, 17.5, 18.5, 19, 19.5, 20.5, 21, 21.5, 22.5], "labels": false, "tickSize": -3, "title": null}}
   }},
  {"data": {"values": [{}]}, "mark": {"type": "point", "opacity": 0},
   "encoding": {
    "x": {"datum": 0, "type": "quantitative", "scale": {"domain": [-0.4, 2.1], "nice": false, "zero": false},
          "axis": {"orient": "top", "values": [-0.3, -0.2, -0.1, 0.1, 0.2, 0.3, 0.5, 0.6, 0.7, 0.9, 1.0, 1.1, 1.3, 1.4, 1.5, 1.7, 1.8, 1.9, 2.1], "labels": false, "tickSize": -3, "title": null}},
    "y": {"datum": 14, "type": "quantitative", "scale": {"domain": [12.5, 22.5], "reverse": true, "nice": false, "zero": false},
          "axis": {"orient": "right", "values": [12.5, 13, 13.5, 14.5, 15, 15.5, 16.5, 17, 17.5, 18.5, 19, 19.5, 20.5, 21, 21.5, 22.5], "labels": false, "tickSize": -3, "title": null}}
   }},
  {"data": {"values": [{}]}, "mark": {"type": "text", "align": "left", "baseline": "middle", "fontSize": 12, "font": "Liberation Sans", "color": "black"},
   "encoding": {
    "x": {"datum": 0.26, "type": "quantitative", "scale": {"domain": [-0.4, 2.1], "nice": false, "zero": false}, "axis": null},
    "y": {"datum": 13.41, "type": "quantitative", "scale": {"domain": [12.5, 22.5], "reverse": true, "nice": false, "zero": false}, "axis": null},
    "text": {"value": "Field region"}
   }}
 ],
 "resolve": {"axis": {"x": "independent", "y": "independent"}}
}
]
}
